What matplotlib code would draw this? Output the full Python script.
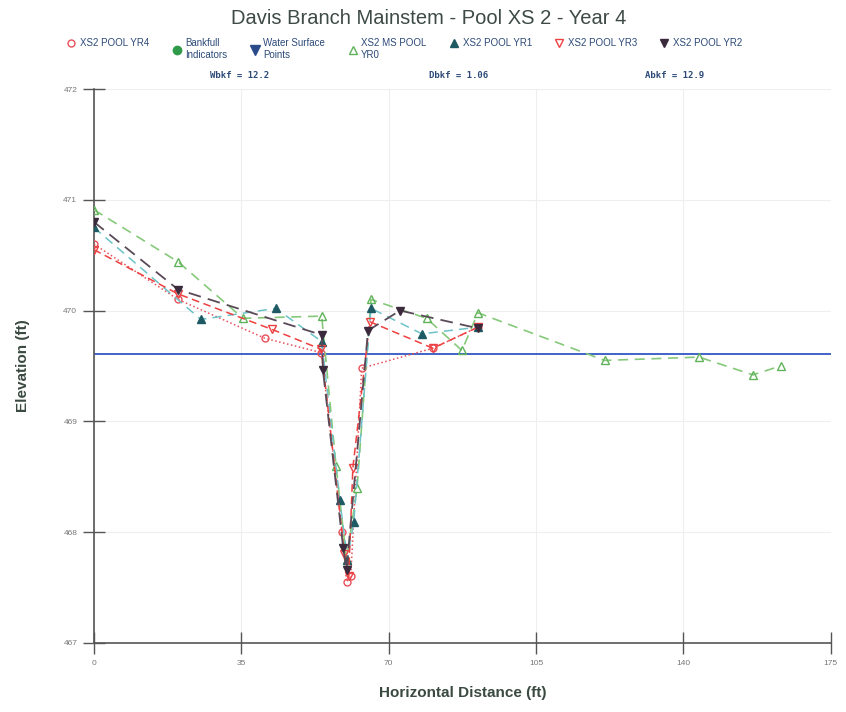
import matplotlib

matplotlib.use("Agg")
import matplotlib.pyplot as plt

plt.rcParams["font.family"] = ["Liberation Sans", "DejaVu Sans"]

TITLE = "Davis Branch Mainstem - Pool XS 2 - Year 4"
WSE = 469.61  # water surface elevation

# survey points (ft)
yr0_x = [0, 20, 35.4, 54.1, 57.5, 60.0, 62.5, 65.8, 79.0, 87.4, 91.2, 121.3, 143.7, 156.5, 163.1]
yr0_y = [470.91, 470.44, 469.93, 469.95, 468.6, 467.75, 468.4, 470.1, 469.93, 469.64, 469.98,
         469.55, 469.58, 469.42, 469.5]

yr1_x = [0, 25.4, 43.2, 54.1, 58.4, 60.2, 61.7, 65.8, 77.9, 91.2]
yr1_y = [470.75, 469.92, 470.02, 469.72, 468.29, 467.75, 468.09, 470.02, 469.79, 469.85]

yr2_x = [0, 20, 54.1, 54.4, 59.2, 60.0, 65.1, 72.7, 91.2]
yr2_y = [470.8, 470.19, 469.78, 469.46, 467.86, 467.66, 469.82, 470.0, 469.84]

yr3_x = [0, 20, 42.3, 54.0, 59.5, 60.5, 61.5, 65.5, 80.5, 91.2]
yr3_y = [470.55, 470.15, 469.83, 469.65, 467.8, 467.6, 468.58, 469.9, 469.66, 469.85]

yr4_x = [0, 20, 40.6, 54.0, 59.0, 60.0, 61.0, 63.6, 80.5, 91.2]
yr4_y = [470.6, 470.1, 469.75, 469.62, 468.0, 467.55, 467.6, 469.48, 469.66, 469.85]

bkf_labels = ["Wbkf = 12.2", "Dbkf = 1.06", "Abkf = 12.9"]
bkf_label_x = [34.5, 86.7, 137.8]

XTICKS = [0, 35, 70, 105, 140, 175]
YTICKS = [467, 468, 469, 470, 471, 472]

LABEL_C = "#3b4a40"
TEXT_C = "#2c4a78"

fig = plt.figure(figsize=(8.46, 7.12), dpi=100)
ax = fig.add_axes([0.111, 0.097, 0.871, 0.778])

ax.axhline(WSE, color="#3f63c8", lw=1.4, zorder=2)

ln4, = ax.plot(yr4_x, yr4_y, ls=":", color="#e8505a", lw=1.1, marker="o", ms=5,
               mfc="none", mec="#e8505a", label="XS2 POOL YR4", zorder=3)
ln0, = ax.plot(yr0_x, yr0_y, ls=(0, (6, 4)), color="#86c97a", lw=1.2, marker="^", ms=6,
               mfc="none", mec="#5fb35a", label="XS2 MS POOL\nYR0", zorder=3)
ln1, = ax.plot(yr1_x, yr1_y, ls=(0, (6, 4)), color="#6cc3c8", lw=1.1, marker="^", ms=6,
               mfc="#1e5a64", mec="#1e5a64", label="XS2 POOL YR1", zorder=4)
ln3, = ax.plot(yr3_x, yr3_y, ls=(0, (5, 3)), color="#ee4040", lw=1.1, marker="v", ms=6,
               mfc="none", mec="#ee4040", label="XS2 POOL YR3", zorder=4)
ln2, = ax.plot(yr2_x, yr2_y, ls=(0, (7, 4)), color="#5a4a58", lw=1.3, marker="v", ms=6,
               mfc="#3a2a3c", mec="#3a2a3c", label="XS2 POOL YR2", zorder=5)
bkf, = ax.plot([], [], ls="none", marker="o", ms=6, color="#2e9a4a", label="Bankfull\nIndicators")
wsp, = ax.plot([], [], ls="none", marker="v", ms=7, color="#2b4a8a", label="Water Surface\nPoints")

ax.set_xlim(0, 175)
ax.set_ylim(467, 472)
ax.set_xticks(XTICKS)
ax.set_yticks(YTICKS)
ax.tick_params(direction="inout", length=16, width=1, colors="#555555", labelsize=6,
               labelcolor="#777777", pad=4)
ax.grid(True, color="#eeeeee", lw=0.8)
for s in ["top", "right"]:
    ax.spines[s].set_visible(False)
for s in ["left", "bottom"]:
    ax.spines[s].set_color("#555555")
    ax.spines[s].set_linewidth(1.2)

ax.set_xlabel("Horizontal Distance (ft)", fontsize=11, fontweight="bold", color=LABEL_C, labelpad=14)
ax.set_ylabel("Elevation (ft)", fontsize=11, fontweight="bold", color=LABEL_C, labelpad=24)

for lab, xv in zip(bkf_labels, bkf_label_x):
    ax.text(xv, 472.08, lab, ha="center", va="bottom", fontsize=6.5, fontweight="bold",
            family="DejaVu Sans Mono", color=TEXT_C)

fig.suptitle(TITLE, x=0.507, y=0.987, fontsize=14.5, color="#3d4a45")

handles = [ln4, bkf, wsp, ln0, ln1, ln3, ln2]
leg = fig.legend(handles=handles, labels=[h.get_label() for h in handles], ncol=7,
                 loc="upper center", bbox_to_anchor=(0.478, 0.953), frameon=False,
                 fontsize=7, handlelength=1.0, handletextpad=0.4, columnspacing=2.3,
                 borderpad=0)
leg._legend_handle_box.align = "top"
for t in leg.get_texts():
    t.set_color(TEXT_C)
for h in leg.legend_handles:
    h.set_linestyle("none")

fig.savefig("out.png", dpi=100)
